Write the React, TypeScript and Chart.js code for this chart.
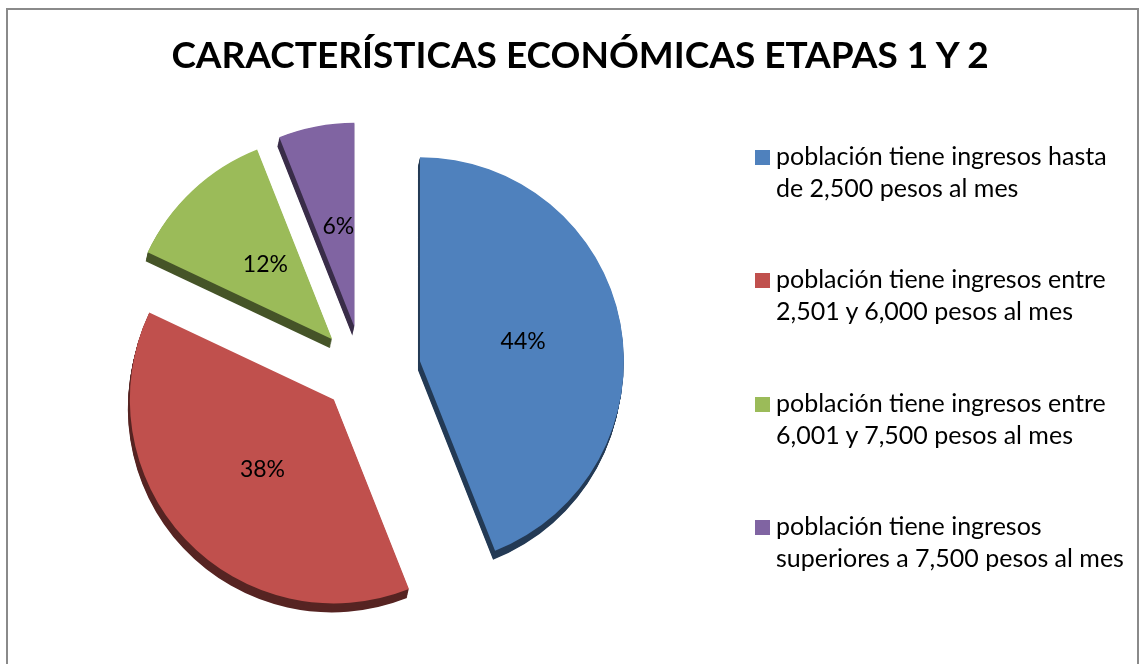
import React, { useEffect, useRef } from 'react';
import { Chart, PieController, ArcElement } from 'chart.js';

Chart.register(PieController, ArcElement);

const TITLE = 'CARACTERÍSTICAS ECONÓMICAS ETAPAS 1 Y 2';

const categories: string[][] = [
  ['población tiene ingresos hasta', 'de 2,500 pesos al mes'],
  ['población tiene ingresos entre', '2,501 y 6,000 pesos al mes'],
  ['población tiene ingresos entre', '6,001 y 7,500 pesos al mes'],
  ['población tiene ingresos', 'superiores a 7,500 pesos al mes'],
];

const values = [44, 38, 12, 6];

const colors = ['#4F81BD', '#C0504D', '#9BBB59', '#8064A2'];

// explosion distance of each slice, in px (style)
const explode = [58, 40, 45, 46];

const FONT = 'Lato, "Open Sans", "Noto Sans", sans-serif';

const explode3d = {
  id: 'explode3d',
  beforeDatasetsDraw(chart: any) {
    const ctx: CanvasRenderingContext2D = chart.ctx;
    const meta = chart.getDatasetMeta(0);
    const depth = { x: -2, y: 9 };
    const steps = 10;
    const shifts = meta.data.map((arc: any, i: number) => {
      const mid = (arc.startAngle + arc.endAngle) / 2;
      return { x: Math.cos(mid) * explode[i], y: Math.sin(mid) * explode[i] };
    });
    // side (depth) of each slice
    meta.data.forEach((arc: any, i: number) => {
      ctx.save();
      ctx.filter = 'brightness(0.45)';
      for (let s = steps; s >= 1; s--) {
        ctx.save();
        ctx.translate(shifts[i].x + (depth.x * s) / steps, shifts[i].y + (depth.y * s) / steps);
        arc.draw(ctx);
        ctx.restore();
      }
      ctx.restore();
    });
    // top faces
    meta.data.forEach((arc: any, i: number) => {
      ctx.save();
      ctx.translate(shifts[i].x, shifts[i].y);
      arc.draw(ctx);
      ctx.restore();
    });
    // data labels
    const data = chart.data.datasets[0].data as number[];
    ctx.save();
    ctx.font = `23px ${FONT}`;
    ctx.fillStyle = '#000';
    ctx.textAlign = 'center';
    ctx.textBaseline = 'middle';
    meta.data.forEach((arc: any, i: number) => {
      const p = arc.getCenterPoint();
      ctx.fillText(`${data[i]}%`, p.x + shifts[i].x + 3, p.y + shifts[i].y);
    });
    ctx.restore();
    return false;
  },
};

export default function App() {
  const ref = useRef<HTMLCanvasElement | null>(null);

  useEffect(() => {
    if (!ref.current) return;
    const chart = new Chart(ref.current, {
      type: 'pie',
      data: {
        labels: categories.map((c) => c.join(' ')),
        datasets: [
          {
            data: values,
            backgroundColor: colors,
            borderWidth: 0,
            radius: 204,
          } as any,
        ],
      },
      options: {
        responsive: false,
        animation: false,
        events: [],
        layout: { padding: { left: 0, right: 413, top: 80, bottom: 0 } },
        plugins: { legend: { display: false }, tooltip: { enabled: false } } as any,
      },
      plugins: [explode3d],
    });
    return () => chart.destroy();
  }, []);

  return (
    <div style={{ position: 'absolute', left: 0, top: 0, width: 1139, height: 664, overflow: 'hidden', background: '#fff' }}>
      <div
        style={{
          position: 'absolute',
          left: 6,
          top: 8,
          width: 1129,
          height: 700,
          border: '2px solid #8a8a8a',
        }}
      />
      <canvas ref={ref} width={1139} height={664} style={{ position: 'absolute', left: 0, top: 0 }} />
      <div
        style={{
          position: 'absolute',
          left: 0,
          top: 32,
          width: 1160,
          textAlign: 'center',
          fontFamily: FONT,
          fontWeight: 700,
          fontSize: 37,
          lineHeight: '44px',
          color: '#000',
          whiteSpace: 'nowrap',
        }}
      >
        {TITLE}
      </div>
      {categories.map((lines, i) => (
        <div
          key={i}
          style={{
            position: 'absolute',
            left: 755,
            top: 139 + i * 123.3,
            fontFamily: FONT,
            fontSize: 25,
            lineHeight: '32px',
            color: '#000',
            whiteSpace: 'nowrap',
          }}
        >
          <div style={{ position: 'absolute', left: 0, top: 11, width: 15, height: 15, background: colors[i] }} />
          <div style={{ marginLeft: 21 }}>
            {lines.map((l, j) => (
              <div key={j}>{l}</div>
            ))}
          </div>
        </div>
      ))}
    </div>
  );
}
